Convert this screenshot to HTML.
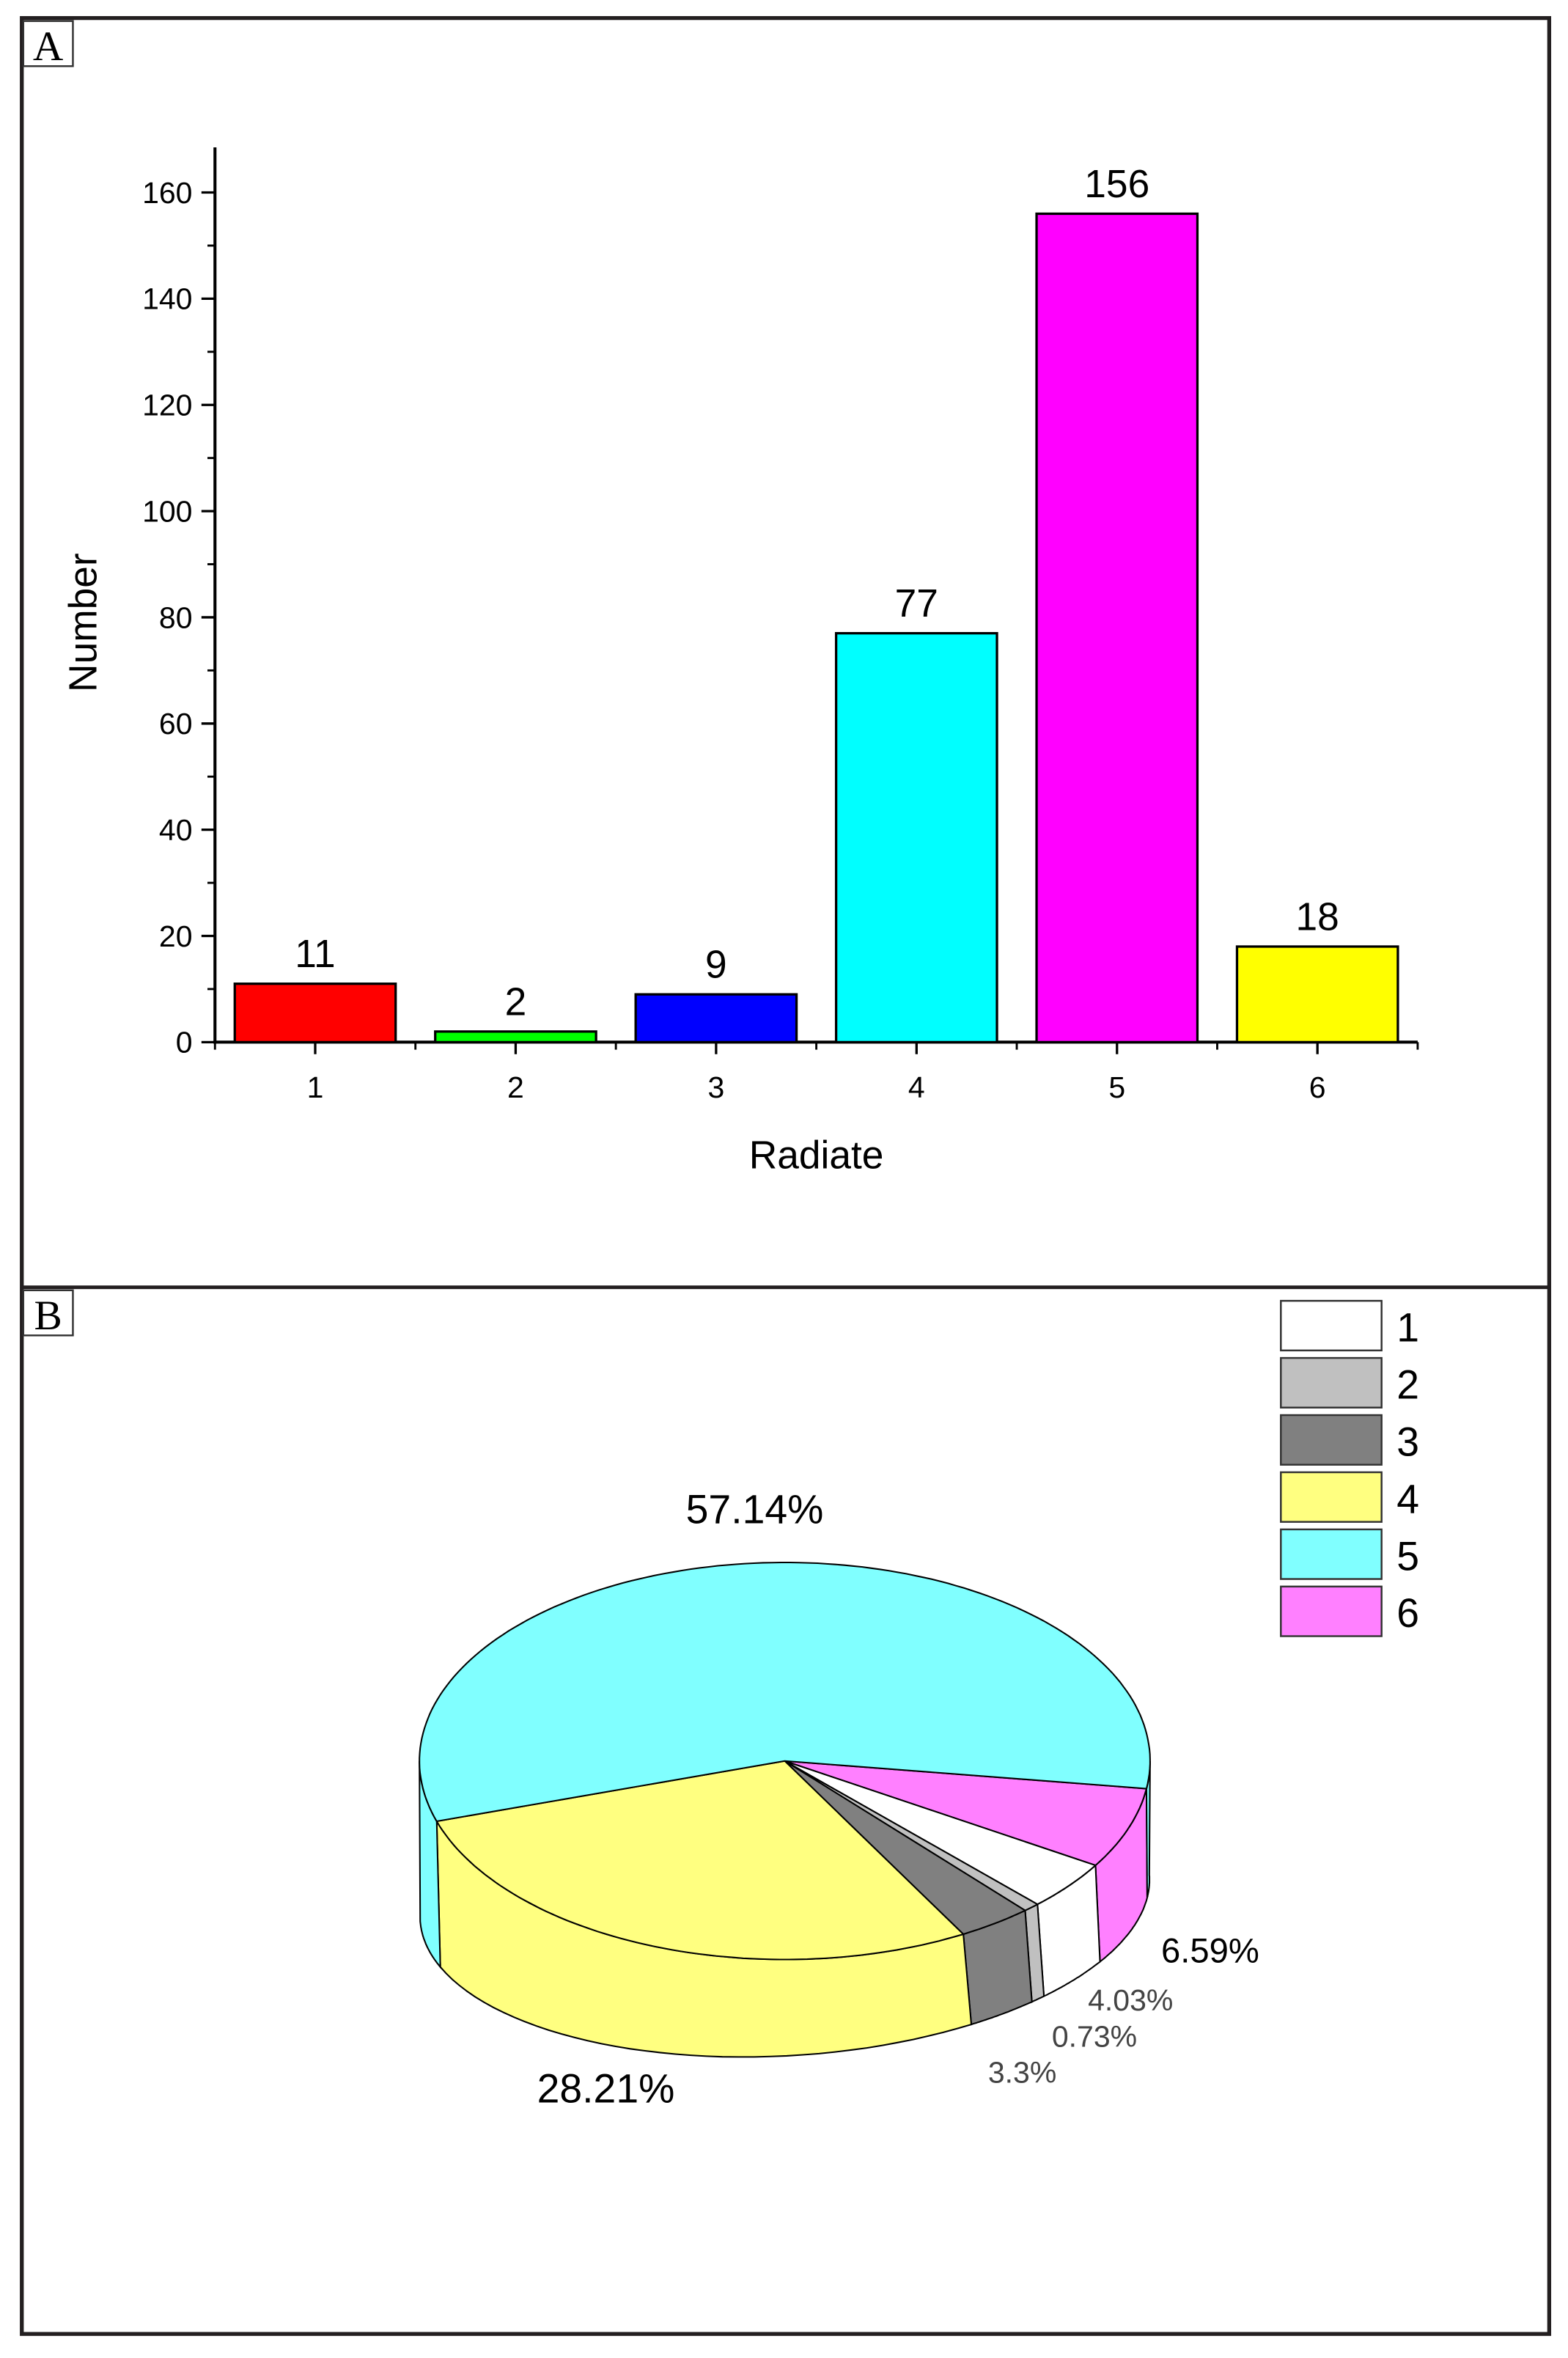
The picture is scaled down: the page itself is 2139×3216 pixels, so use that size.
<!DOCTYPE html>
<html><head><meta charset="utf-8"><style>
html,body{margin:0;padding:0;background:#fff}
svg{display:block}
text{font-family:"Liberation Sans",sans-serif}
</style></head><body>
<svg id="fig" width="2139" height="3216" viewBox="0 0 1043 1568" preserveAspectRatio="none" xmlns="http://www.w3.org/2000/svg">
<rect x="0" y="0" width="1043" height="1568" fill="#fff"/>
<rect x="14.5" y="12" width="1016" height="1540" fill="none" stroke="#231f20" stroke-width="2.6"/>
<line x1="14" y1="856" x2="1031" y2="856" stroke="#231f20" stroke-width="2.4"/>
<g>
<rect x="15.5" y="14" width="33" height="30" fill="#fff" stroke="#333" stroke-width="1.2"/>
<text x="32" y="40" font-size="28" text-anchor="middle" style="font-family:'Liberation Serif',serif">A</text></g>
<g>
<rect x="15.5" y="858" width="33" height="30" fill="#fff" stroke="#333" stroke-width="1.2"/>
<text x="32" y="884" font-size="28" text-anchor="middle" style="font-family:'Liberation Serif',serif">B</text></g>
<g id="bars"></g>
<g id="pie"></g>
</svg>
<script>
const categories = ["1","2","3","4","5","6"];
const counts = [11, 2, 9, 77, 156, 18];
const barColors = ["#ff0000","#00ff00","#0000ff","#00ffff","#ff00ff","#ffff00"];
const yTicks = [0,20,40,60,80,100,120,140,160];
const pieLabels = ["1","2","3","4","5","6"];
const piePercents = [4.03, 0.73, 3.3, 28.21, 57.14, 6.59];
const pieColors = ["#ffffff","#c0c0c0","#808080","#ffff80","#80ffff","#ff80ff"];
const pieLabelText = ["4.03%","0.73%","3.3%","28.21%","57.14%","6.59%"];

const NS="http://www.w3.org/2000/svg";
function mk(tag, attrs, parent){const e=document.createElementNS(NS,tag);for(const k in attrs)e.setAttribute(k,attrs[k]);parent.appendChild(e);return e;}

// ---- bar chart ----
const barsG=document.getElementById('bars');
const X0=143, X1=943, Y0=693, Y160=128;
const yScale=v=>Y0-(v)*(Y0-Y160)/160;
const nCat=categories.length;
const band=(X1-X0)/nCat;
const xScale=i=>X0+band*(i+0.5);
let ax=mk('line',{x1:X0,y1:98,x2:X0,y2:Y0+1,stroke:'#000','stroke-width':2},barsG);


let bx=mk('line',{x1:X0-1,y1:Y0,x2:X1,y2:Y0,stroke:'#000','stroke-width':2},barsG);


yTicks.forEach(v=>{
  const y=yScale(v);
  const t=mk('line',{x1:X0-9,y1:y,x2:X0,y2:y,stroke:'#000','stroke-width':1.6},barsG);
  
  
  const l=mk('text',{x:X0-15,y:y+7,'font-size':20,'text-anchor':'end'},barsG);
  l.textContent=v;
  
  
  if(v<160){const m=mk('line',{x1:X0-5,y1:yScale(v+10),x2:X0,y2:yScale(v+10),stroke:'#000','stroke-width':1.4},barsG);
  
  }
});
categories.forEach((c,i)=>{
  const cx=xScale(i);
  const t=mk('line',{x1:cx,y1:Y0,x2:cx,y2:Y0+8,stroke:'#000','stroke-width':1.6},barsG);
  
  
  const bxl=X0+band*i;
  const m=mk('line',{x1:bxl,y1:Y0,x2:bxl,y2:Y0+5,stroke:'#000','stroke-width':1.4},barsG);
  
  
  const l=mk('text',{x:cx,y:Y0+37,'font-size':20,'text-anchor':'middle'},barsG);
  l.textContent=c;
  
  
  const w=107, y=yScale(counts[i]);
  const r=mk('rect',{x:cx-w/2,y:y,width:w,height:Y0-y,fill:barColors[i],stroke:'#000','stroke-width':1.6},barsG);
  
  
  const vl=mk('text',{x:cx,y:y-11,'font-size':26,'text-anchor':'middle'},barsG);
  vl.textContent=counts[i];
  
  
});
const lastT=mk('line',{x1:X1,y1:Y0,x2:X1,y2:Y0+5,stroke:'#000','stroke-width':1.4},barsG);


const xt=mk('text',{x:543,y:777,'font-size':26,'text-anchor':'middle'},barsG);
xt.textContent='Radiate';


const yt=mk('text',{x:0,y:0,'font-size':26,'text-anchor':'middle',transform:'translate(64,414) rotate(-90)'},barsG);
yt.textContent='Number';



// ---- pie ----
const pieG=document.getElementById('pie');
const CX=522, CY=1171, RX=243, RY=132;
const BCX=522, BCY=1262, BRX=243, BRY=105, ROT=-3.5*Math.PI/180;
const topPt=t=>[CX+RX*Math.cos(t), CY+RY*Math.sin(t)];
const botPt=t=>{const x=BRX*Math.cos(t), y=BRY*Math.sin(t);return [BCX+x*Math.cos(ROT)-y*Math.sin(ROT), BCY+x*Math.sin(ROT)+y*Math.cos(ROT)];};
const order=[5,0,1,2,3,4];
const total=piePercents.reduce((a,b)=>a+b,0);
let ang=8*Math.PI/180;
const slices=[];
order.forEach(i=>{const s=ang, e=ang+piePercents[i]/total*2*Math.PI; slices.push({i,s,e}); ang=e;});
const wallG=mk('g',{},pieG);
function wall(i,a,b){
  if(b<=a) return;
  const N=40; let pts=[];
  for(let k=0;k<=N;k++){pts.push(topPt(a+(b-a)*k/N));}
  for(let k=N;k>=0;k--){pts.push(botPt(a+(b-a)*k/N));}
  const p=mk('polygon',{points:pts.map(p=>p[0].toFixed(1)+','+p[1].toFixed(1)).join(' '),fill:pieColors[i],stroke:'#000','stroke-width':1},wallG);
  
  
}
slices.forEach(sl=>{
  [[0,Math.PI],[2*Math.PI,3*Math.PI]].forEach(([lo,hi])=>{wall(sl.i,Math.max(sl.s,lo),Math.min(sl.e,hi));});
});
slices.forEach(sl=>{
  const N=Math.max(4,Math.ceil((sl.e-sl.s)*40));
  let d='M'+CX+','+CY;
  for(let k=0;k<=N;k++){const p=topPt(sl.s+(sl.e-sl.s)*k/N);d+=' L'+p[0].toFixed(1)+','+p[1].toFixed(1);}
  d+=' Z';
  const p=mk('path',{d:d,fill:pieColors[sl.i],stroke:'#000','stroke-width':1},pieG);
  
  
});
const labelPos=[[752,1337,20,'#444'],[728,1361,20,'#444'],[680,1385,20,'#444'],[403,1398,27,'#000'],[502,1013,27,'#000'],[805,1305,23,'#000']];
pieLabelText.forEach((t,i)=>{
  const [x,y,fs,col]=labelPos[i];
  const l=mk('text',{x:x,y:y,'font-size':fs,'text-anchor':'middle',fill:col},pieG);
  l.textContent=t;
  
  
});
pieLabels.forEach((t,i)=>{
  const y=865+i*38;
  const r=mk('rect',{x:852,y:y,width:67,height:33,fill:pieColors[i],stroke:'#333','stroke-width':1.2},pieG);
  
  
  const l=mk('text',{x:929,y:y+27,'font-size':27},pieG);
  l.textContent=t;
  
  
});
</script>
</body></html>
